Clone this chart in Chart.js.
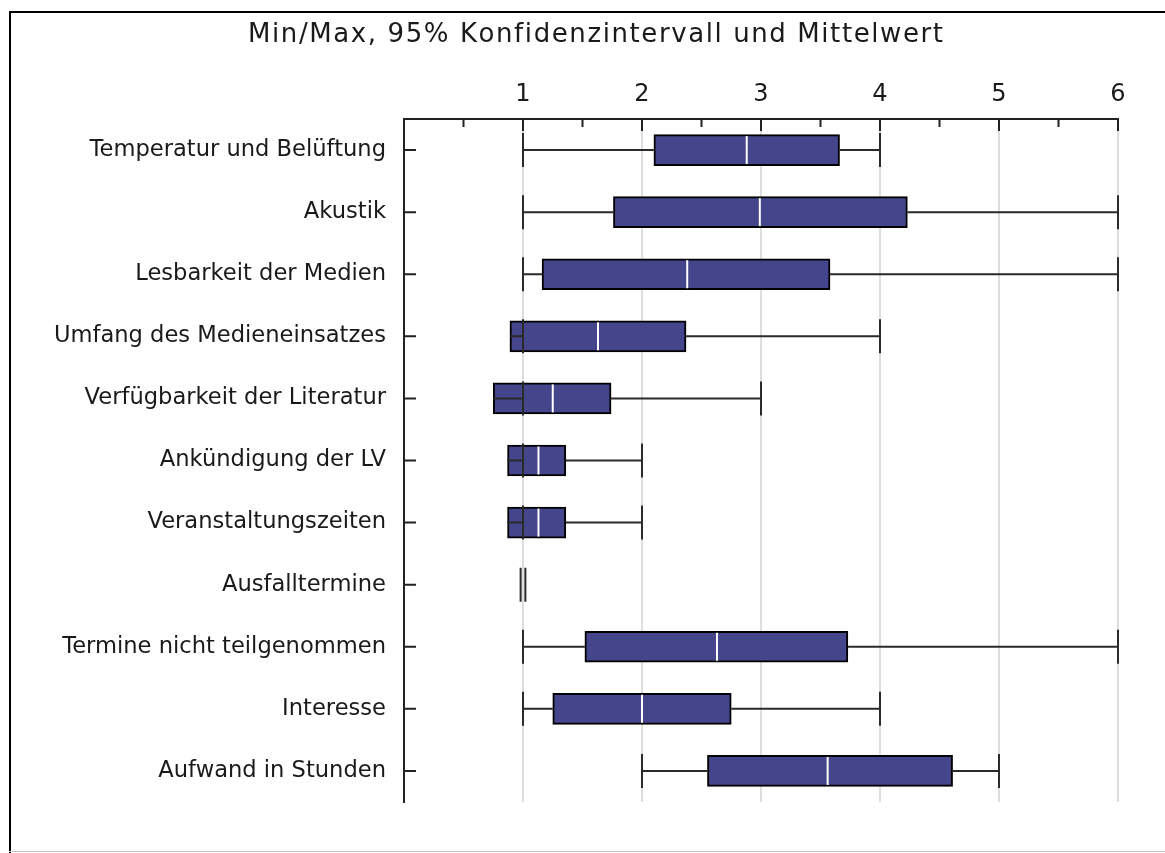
<!DOCTYPE html>
<html>
<head>
<meta charset="utf-8">
<script src="https://cdn.jsdelivr.net/npm/chart.js@4.4.0/dist/chart.umd.min.js"></script>
<style>
  html, body { margin: 0; padding: 0; background: #ffffff; }
  #wrap { position: absolute; left: 0; top: 0; width: 1165px; height: 853px; }
</style>
</head>
<body>
<div id="wrap"><canvas id="c" width="1165" height="853"></canvas></div>
<script>
// ---- data ----
const titleText = "Min/Max, 95% Konfidenzintervall und Mittelwert";
const categories = [
  "Temperatur und Belüftung",
  "Akustik",
  "Lesbarkeit der Medien",
  "Umfang des Medieneinsatzes",
  "Verfügbarkeit der Literatur",
  "Ankündigung der LV",
  "Veranstaltungszeiten",
  "Ausfalltermine",
  "Termine nicht teilgenommen",
  "Interesse",
  "Aufwand in Stunden"
];
const minValues  = [1, 1, 1, 1, 1, 1, 1, 0.98, 1, 1, 2];
const maxValues  = [4, 6, 6, 4, 3, 2, 2, 1.02, 6, 4, 5];
const ciLow      = [2.10, 1.76, 1.16, 0.89, 0.75, 0.87, 0.87, null, 1.52, 1.25, 2.55];
const ciHigh     = [3.66, 4.23, 3.58, 2.37, 1.74, 1.36, 1.36, null, 3.73, 2.75, 4.61];
const meanValues = [2.88, 2.99, 2.38, 1.63, 1.25, 1.13, 1.13, null, 2.63, 2.00, 3.56];
const tickLabels = [1, 2, 3, 4, 5, 6];
const axisMin = 0, axisMax = 6, minorStep = 0.5;

// ---- styles ----
const FONT = "'DejaVu Sans', Verdana, sans-serif";
const TEXT = '#1a1a1a';
const AXIS = '#222222';
const BOX = '#45458c';

const boxData = categories.map((c, i) =>
  (ciLow[i] === null || ciHigh[i] === null) ? null : [ciLow[i], ciHigh[i]]);

const framePlugin = {
  id: 'frame',
  beforeDraw(chart) {
    const ctx = chart.ctx;
    ctx.save();
    ctx.fillStyle = '#ffffff';
    ctx.fillRect(0, 0, chart.width, chart.height);
    ctx.strokeStyle = '#000000';
    ctx.lineWidth = 2;
    ctx.beginPath();
    ctx.moveTo(9, 12); ctx.lineTo(chart.width, 12);
    ctx.moveTo(10, 12); ctx.lineTo(10, chart.height);
    ctx.stroke();
    ctx.strokeStyle = '#c8c8c8';
    ctx.lineWidth = 1;
    ctx.beginPath();
    ctx.moveTo(9, 851.5); ctx.lineTo(chart.width, 851.5);
    ctx.stroke();
    ctx.restore();
  },
  afterDraw(chart) {
    // slightly spaced title text
    const ctx = chart.ctx;
    ctx.save();
    ctx.font = "26px " + FONT;
    ctx.fillStyle = TEXT;
    ctx.textBaseline = 'alphabetic';
    ctx.textAlign = 'left';
    const chars = Array.from(titleText);
    const plain = chars.reduce((s, ch) => s + ctx.measureText(ch).width, 0);
    const left = 248, right = 943;
    const spacing = Math.max(0, ((right - left) - plain) / (chars.length - 1));
    let x = left;
    chars.forEach(ch => {
      ctx.fillText(ch, x, 42);
      x += ctx.measureText(ch).width + spacing;
    });
    ctx.restore();
  }
};

const whiskerPlugin = {
  id: 'whiskers',
  afterDatasetsDraw(chart) {
    const ctx = chart.ctx;
    const xs = chart.scales.x, ys = chart.scales.y;
    ctx.save();
    categories.forEach((c, i) => {
      const y = ys.getPixelForValue(i);
      const xMin = xs.getPixelForValue(minValues[i]);
      const xMax = xs.getPixelForValue(maxValues[i]);
      ctx.strokeStyle = '#2a2a2a';
      ctx.lineWidth = 2;
      ctx.beginPath();
      if (ciLow[i] !== null) {
        const xLo = xs.getPixelForValue(ciLow[i]);
        const xHi = xs.getPixelForValue(ciHigh[i]);
        ctx.moveTo(xMin, y); ctx.lineTo(xLo, y);
        ctx.moveTo(xHi, y); ctx.lineTo(xMax, y);
      }
      ctx.moveTo(xMin, y - 17); ctx.lineTo(xMin, y + 17);
      ctx.moveTo(xMax, y - 17); ctx.lineTo(xMax, y + 17);
      ctx.stroke();
      if (meanValues[i] !== null) {
        const xm = xs.getPixelForValue(meanValues[i]);
        ctx.strokeStyle = '#ffffff';
        ctx.lineWidth = 2;
        ctx.beginPath();
        ctx.moveTo(xm, y - 14); ctx.lineTo(xm, y + 14);
        ctx.stroke();
      }
    });
    // inward tick marks
    ctx.strokeStyle = AXIS;
    ctx.lineWidth = 2;
    ctx.beginPath();
    const top = chart.chartArea.top;
    for (let v = minorStep; v <= axisMax + 1e-9; v += minorStep) {
      const px = xs.getPixelForValue(v);
      const len = Number.isInteger(v) ? 12 : 8;
      ctx.moveTo(px, top); ctx.lineTo(px, top + len);
    }
    const left = chart.chartArea.left;
    categories.forEach((c, i) => {
      const py = ys.getPixelForValue(i);
      ctx.moveTo(left, py); ctx.lineTo(left + 12, py);
    });
    ctx.stroke();
    ctx.restore();
  }
};

new Chart(document.getElementById('c'), {
  type: 'bar',
  data: {
    labels: categories,
    datasets: [{
      label: '95% Konfidenzintervall',
      data: boxData,
      backgroundColor: BOX,
      borderColor: '#000000',
      borderWidth: 2,
      borderSkipped: false,
      barThickness: 31
    }]
  },
  options: {
    indexAxis: 'y',
    responsive: false,
    animation: false,
    layout: { padding: { left: 0, top: 0, right: 47, bottom: 51 } },
    plugins: {
      legend: { display: false },
      tooltip: { enabled: false },
      title: { display: false }
    },
    scales: {
      x: {
        type: 'linear',
        position: 'top',
        min: axisMin,
        max: axisMax,
        afterFit(scale) { scale.height = 119; },
        ticks: {
          stepSize: minorStep,
          autoSkip: false,
          maxRotation: 0,
          padding: 10,
          color: TEXT,
          font: { family: FONT, size: 24 },
          callback: (v) => tickLabels.includes(v) ? String(v) : ''
        },
        grid: {
          drawTicks: false,
          lineWidth: 2,
          color: (ctx) => (ctx.tick && tickLabels.includes(ctx.tick.value)) ? '#dedede' : 'rgba(0,0,0,0)'
        },
        border: { display: true, color: AXIS, width: 2 }
      },
      y: {
        type: 'category',
        position: 'left',
        offset: true,
        afterFit(scale) { scale.width = 404; },
        ticks: {
          padding: 18,
          color: TEXT,
          autoSkip: false,
          font: { family: FONT, size: 22.6 }
        },
        grid: { display: false, drawTicks: false },
        border: { display: true, color: AXIS, width: 2 }
      }
    }
  },
  plugins: [framePlugin, whiskerPlugin]
});
</script>
</body>
</html>
